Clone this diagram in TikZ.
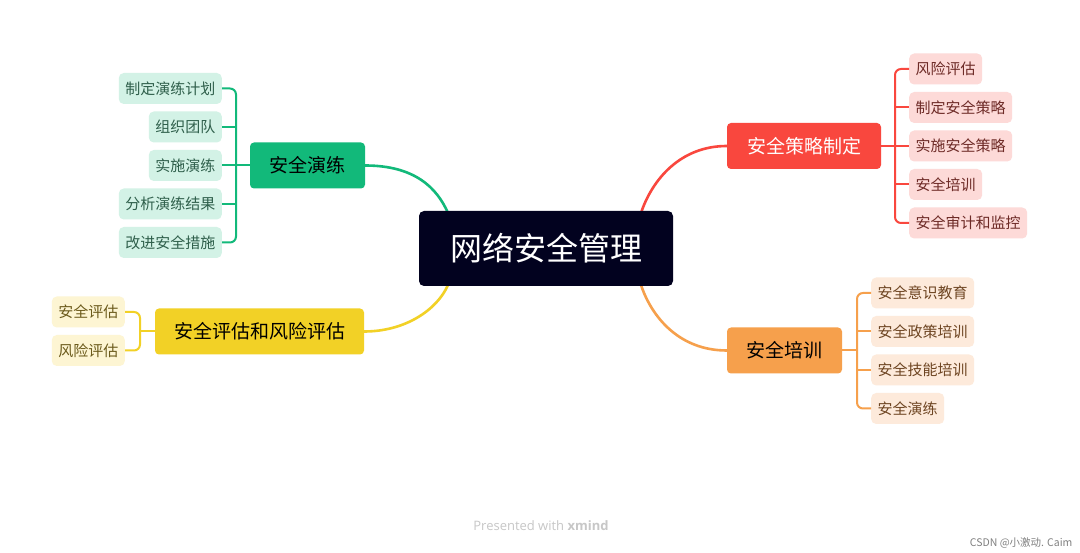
\documentclass[tikz,border=0pt]{standalone}
\usepackage{fontspec}
\usetikzlibrary{backgrounds}
\setmainfont{Noto Sans CJK SC}
\newfontfamily\latinsans{Open Sans}
\definecolor{cdark}{HTML}{02021F}
\definecolor{gmain}{HTML}{12B97A}
\definecolor{glight}{HTML}{D3F2E6}
\definecolor{gtext}{HTML}{2F5F4B}
\definecolor{ymain}{HTML}{F2D126}
\definecolor{ylight}{HTML}{FDF5D3}
\definecolor{ytext}{HTML}{6B5A1B}
\definecolor{rmain}{HTML}{F9473E}
\definecolor{rlight}{HTML}{FDDAD8}
\definecolor{rtext}{HTML}{6E2B27}
\definecolor{omain}{HTML}{F6A04C}
\definecolor{olight}{HTML}{FDEADB}
\definecolor{otext}{HTML}{6E4522}
\begin{document}
\begin{tikzpicture}[x=1pt,y=-1pt,
  mainbox/.style={rounded corners=4pt,minimum height=46pt,inner xsep=0pt,font=\fontsize{19}{21}\selectfont},
  kid/.style={rounded corners=5pt,minimum height=31pt,inner xsep=6.5pt,inner ysep=0pt,font=\fontsize{15}{17}\selectfont},
  branch/.style={line width=2.6pt},
  brack/.style={line width=2pt,rounded corners=6pt}]
\useasboundingbox (0,0) rectangle (1080,553);

% central
\node[fill=cdark,rounded corners=5pt,minimum width=254pt,minimum height=75pt,text=white,font=\fontsize{32}{34}\selectfont] (c) at (546,248.5) {网络安全管理};

% main topics
\node[mainbox,fill=gmain,minimum width=115pt] (g) at (307.5,165.5) {安全演练};
\node[mainbox,fill=ymain,minimum width=209pt] (y) at (259.5,331.5) {安全评估和风险评估};
\node[mainbox,fill=rmain,minimum width=154pt,text=white] (r) at (804,146) {安全策略制定};
\node[mainbox,fill=omain,minimum width=115pt] (o) at (784.5,350.5) {安全培训};

% coordinates where branches meet the central box
\coordinate (cg) at (448,213);
\coordinate (cy) at (448,285);
\coordinate (cr) at (641,213);
\coordinate (co) at (641,285);

\begin{scope}[on background layer]
\fill[white] (0,0) rectangle (1080,553);
\draw[branch,gmain] (g.east) .. controls (415,165.5) and (437,188) .. (cg);
\draw[branch,ymain] (y.east) .. controls (405,331.5) and (437,310) .. (cy);
\draw[branch,rmain] (r.west) .. controls (680,146) and (652,180) .. (cr);
\draw[branch,omain] (o.west) .. controls (680,350.5) and (652,318) .. (co);
\end{scope}

% green children
\node[kid,fill=glight,text=gtext,anchor=east] (g1) at (222,88.5) {制定演练计划};
\node[kid,fill=glight,text=gtext,anchor=east] (g2) at (222,127) {组织团队};
\node[kid,fill=glight,text=gtext,anchor=east] (g3) at (222,165.5) {实施演练};
\node[kid,fill=glight,text=gtext,anchor=east] (g4) at (222,204) {分析演练结果};
\node[kid,fill=glight,text=gtext,anchor=east] (g5) at (222,242.5) {改进安全措施};
\coordinate (gb1) at (236,88.5);
\coordinate (gb5) at (236,242.5);
\draw[brack,gmain] (g1.east) -- (gb1) -- (gb5) -- (g5.east);
\draw[brack,gmain] (g2.east) -- (g2.east -| gb1);
\draw[brack,gmain] (g4.east) -- (g4.east -| gb1);
\draw[brack,gmain] (g3.east) -- (g.west);

% yellow children
\node[kid,fill=ylight,text=ytext,anchor=east] (y1) at (125,312) {安全评估};
\node[kid,fill=ylight,text=ytext,anchor=east] (y2) at (125,350.5) {风险评估};
\coordinate (yb1) at (140,312);
\coordinate (yb2) at (140,350.5);
\draw[brack,ymain] (y1.east) -- (yb1) -- (yb2) -- (y2.east);
\draw[brack,ymain] (y.west) -- (y.west -| yb1);

% red children
\node[kid,fill=rlight,text=rtext,anchor=west] (r1) at (909,69) {风险评估};
\node[kid,fill=rlight,text=rtext,anchor=west] (r2) at (909,107.5) {制定安全策略};
\node[kid,fill=rlight,text=rtext,anchor=west] (r3) at (909,146) {实施安全策略};
\node[kid,fill=rlight,text=rtext,anchor=west] (r4) at (909,184.5) {安全培训};
\node[kid,fill=rlight,text=rtext,anchor=west] (r5) at (909,223) {安全审计和监控};
\coordinate (rb1) at (895,69);
\coordinate (rb5) at (895,223);
\draw[brack,rmain] (r1.west) -- (rb1) -- (rb5) -- (r5.west);
\draw[brack,rmain] (r2.west) -- (r2.west -| rb1);
\draw[brack,rmain] (r4.west) -- (r4.west -| rb1);
\draw[brack,rmain] (r.east) -- (r3.west);

% orange children
\node[kid,fill=olight,text=otext,anchor=west] (o1) at (871,293) {安全意识教育};
\node[kid,fill=olight,text=otext,anchor=west] (o2) at (871,331.5) {安全政策培训};
\node[kid,fill=olight,text=otext,anchor=west] (o3) at (871,370) {安全技能培训};
\node[kid,fill=olight,text=otext,anchor=west] (o4) at (871,408.5) {安全演练};
\coordinate (ob1) at (857,293);
\coordinate (ob4) at (857,408.5);
\draw[brack,omain] (o1.west) -- (ob1) -- (ob4) -- (o4.west);
\draw[brack,omain] (o2.west) -- (o2.west -| ob1);
\draw[brack,omain] (o3.west) -- (o3.west -| ob1);
\draw[brack,omain] (o.east) -- (o.east -| ob1);

% footer
\node[text=black!22,font=\latinsans\fontsize{13}{15}\selectfont] (pw) at (541,526) {Presented with \textbf{xmind}};
\node[text=black!50,font=\fontsize{10.5}{12}\selectfont,anchor=east] (wm) at (1076,543) {CSDN @小激动. Caim};
\end{tikzpicture}
\end{document}
